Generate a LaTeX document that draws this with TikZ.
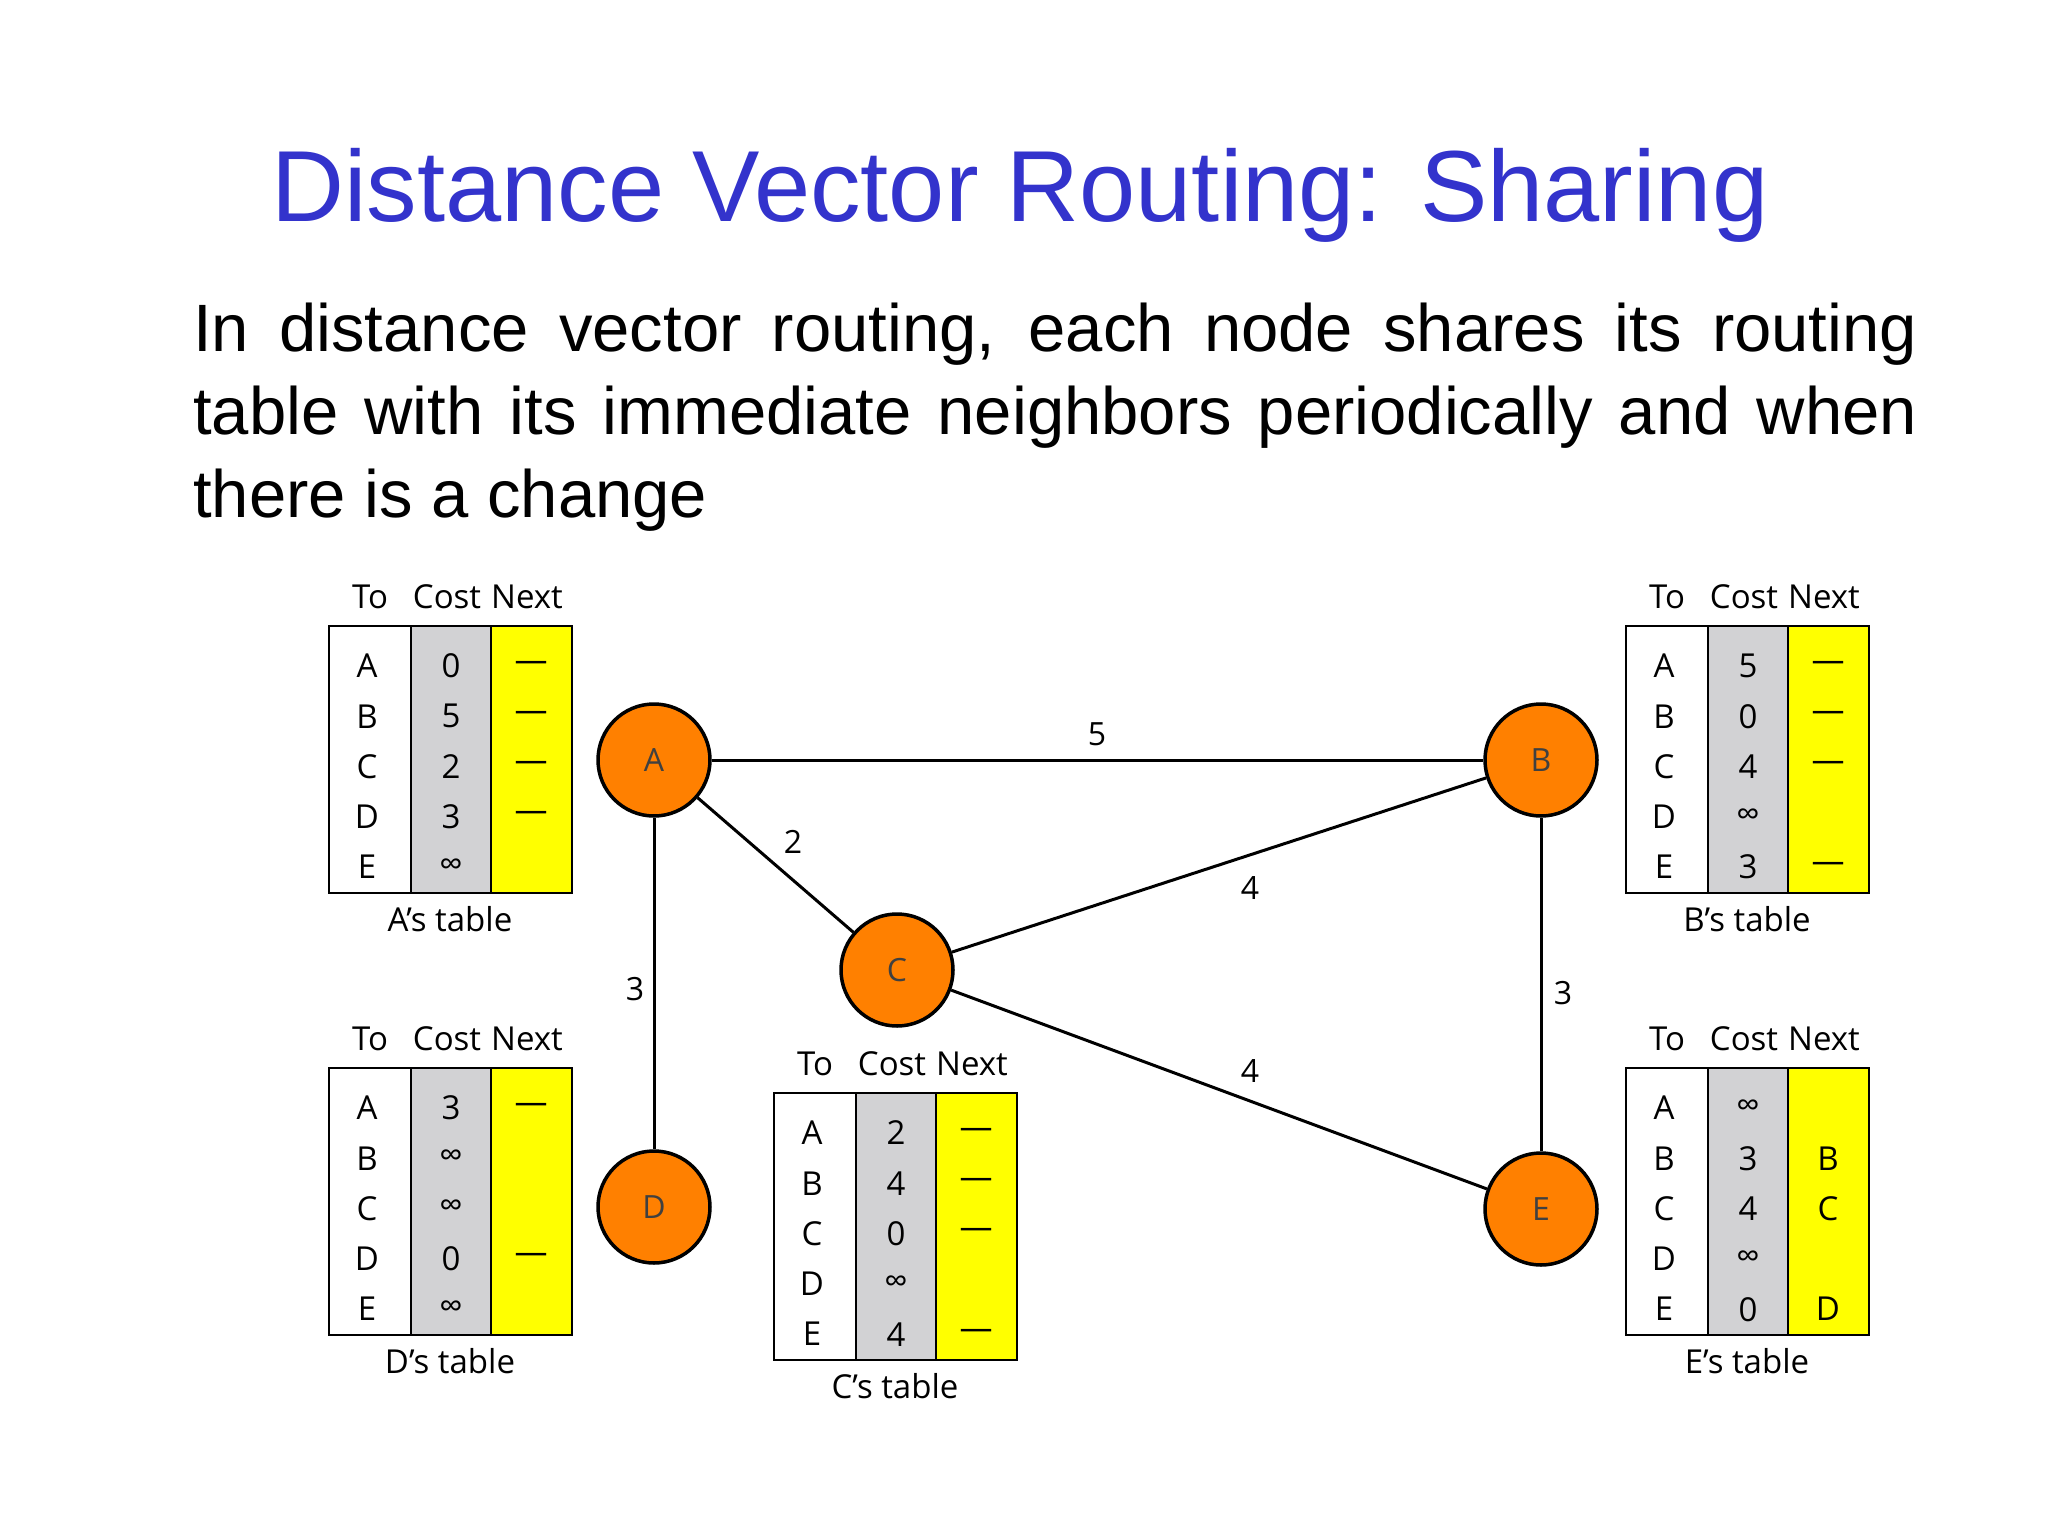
\documentclass[tikz,border=0pt]{standalone}
\usepackage{fontspec}
\setmainfont{Liberation Sans}
\newfontfamily\tf{Open Sans}
\definecolor{ttl}{RGB}{51,51,204}
\definecolor{org}{RGB}{255,128,0}
\definecolor{ylw}{RGB}{255,255,0}
\definecolor{gry}{RGB}{210,210,212}
\newcommand{\rtable}[5]{%
  \begin{scope}[shift={(#2,#3)}]
    \fill[gry] (82,0) rectangle (162,267);
    \fill[ylw] (162,0) rectangle (243,267);
    \draw[line width=2.6pt] (0,0) rectangle (243,267);
    \draw[line width=2.6pt] (82,0) -- (82,267) (162,0) -- (162,267);
    \node[cell] (#1h1) at (41,-29) {To};
    \node[cell] (#1h2) at (118,-29) {Cost};
    \node[cell] (#1h3) at (198,-29) {Next};
    \node[cell] (#1cap) at (121,293) {#4};
    \foreach \t/\c/\n [count=\i] in {#5} {
      \node[cell] (#1t\i) at (38,{40+50.3*(\i-1)}) {\t};
      \node[cell] (#1c\i) at (122,{40+50.3*(\i-1)}) {\c};
      \node[cell] (#1n\i) at (202,{40+50.3*(\i-1)}) {\n};
    }
  \end{scope}}
\begin{document}
\begin{tikzpicture}[x=1pt,y=-1pt,
  cell/.style={font=\tf\fontsize{33}{36}\selectfont, inner sep=0pt, anchor=center},
  rnode/.style={circle, draw, line width=3.5pt, fill=org, minimum size=112pt, inner sep=0pt, font=\tf\fontsize{32}{34}\selectfont, text=black!75},
  link/.style={line width=3pt},
  wlab/.style={font=\tf\fontsize{32}{34}\selectfont, inner sep=0pt}]
\useasboundingbox (0,0) rectangle (2048,1536);
\fill[white] (0,0) rectangle (2048,1536);
\node[text=ttl, font=\fontsize{101}{105}\selectfont, inner sep=0pt] (title) at (1020,195) {Distance Vector Routing: Sharing};
\node[anchor=north west, text width=1724pt, align=justify, inner sep=0pt, font=\fontsize{67}{83}\selectfont] (body) at (193,303)
{In distance vector routing, each node shares its routing table with its immediate neighbors periodically and when there is a change};

\rtable{ta}{329}{626}{A’s table}{A/0/—,B/5/—,C/2/—,D/3/—,E/∞/}
\rtable{tb}{1626}{626}{B’s table}{A/5/—,B/0/—,C/4/—,D/∞/,E/3/—}
\rtable{td}{329}{1068}{D’s table}{A/3/—,B/∞/,C/∞/,D/0/—,E/∞/}
\rtable{tc}{774}{1093}{C’s table}{A/2/—,B/4/—,C/0/—,D/∞/,E/4/—}
\rtable{te}{1626}{1068}{E’s table}{A/∞/,B/3/B,C/4/C,D/∞/,E/0/D}

\node[rnode] (A) at (654,760) {A};
\node[rnode] (B) at (1541,760) {B};
\node[rnode] (C) at (897,970) {C};
\node[rnode] (D) at (654,1207) {D};
\node[rnode] (E) at (1541,1209) {E};
\draw[link] (A) -- (B);
\draw[link] (A) -- (C);
\draw[link] (A) -- (D);
\draw[link] (C) -- (B);
\draw[link] (C) -- (E);
\draw[link] (B) -- (E);
\node[wlab] (l1) at (1097,734) {5};
\node[wlab] (l2) at (793,842) {2};
\node[wlab] (l3) at (1250,888) {4};
\node[wlab] (l4) at (635,989) {3};
\node[wlab] (l5) at (1563,993) {3};
\node[wlab] (l6) at (1250,1071) {4};
\end{tikzpicture}
\end{document}
